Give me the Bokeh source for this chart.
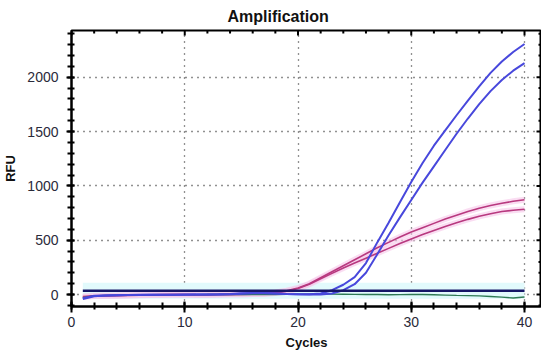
import math
from bokeh.plotting import figure
from bokeh.models import SingleIntervalTicker, Range1d
from bokeh.embed import file_html
from bokeh.resources import INLINE

# ---- data ----
cycles = list(range(1, 41))

blue_a = [-42, -15, -8, -6, -4, -3, -2, -2, -1, 0, 0, 1, 2, 6, 12, 15, 14, 10, 5, 2,
          2, 10, 40, 90, 160, 290, 480, 660, 850, 1035, 1210, 1370, 1510, 1650, 1785,
          1915, 2040, 2145, 2232, 2306]
blue_b = [-35, -12, -9, -7, -5, -4, -3, -3, -2, -1, 0, 0, 1, 3, 8, 12, 12, 9, 5, 2,
          0, 0, 10, 40, 95, 200, 370, 545, 710, 870, 1030, 1180, 1330, 1480, 1620,
          1752, 1872, 1975, 2060, 2130]
mag_a = [-22, -14, -12, -10, -8, -6, -4, -2, 0, 1, -1, -2, 0, 2, 3, 5, 10, 20, 35, 60,
         100, 155, 210, 265, 320, 375, 430, 480, 530, 575, 615, 655, 695, 730, 765,
         795, 820, 840, 858, 872]
mag_b = [-18, -12, -10, -9, -7, -5, -3, -1, 1, 0, -2, -1, 1, 2, 2, 4, 6, 15, 30, 55,
         95, 145, 195, 245, 290, 335, 380, 425, 470, 512, 552, 590, 627, 660, 692,
         720, 744, 764, 776, 785]
green = [-30, -12, -8, -6, -5, -4, -3, -2, -2, -1, -1, 0, 0, 1, 1, 0, 0, 1, 2, 3,
         4, 5, 4, 3, 2, 1, 0, -2, -1, 0, 1, -2, -5, -8, -10, -12, -18, -24, -32, -22]
threshold = [35] * len(cycles)

x_major_step = 10
x_minor_step = 2
y_major_step = 500
y_minor_step = 100
x_min, x_max = 0, 41.5
y_min, y_max = -110, 2430

# tick positions for the ticks on the top and right frame edges
top_ticks = list(range(x_min, 41, x_minor_step))
right_ticks = list(range(-100, 2401, y_minor_step))

FONT = "Liberation Sans"

p = figure(frame_width=470, frame_height=276,
           x_range=Range1d(x_min, x_max), y_range=Range1d(y_min, y_max),
           output_backend="svg", toolbar_location=None,
           min_border_left=50, min_border_right=0, min_border_top=24, min_border_bottom=40)

p.title.text = "Amplification"
p.title.align = "left"
p.title.offset = 156
p.title.text_font = FONT
p.title.text_font_size = "16px"
p.title.text_font_style = "bold"
p.title.text_color = "#111111"
p.title.standoff = 11

p.background_fill_color = "white"
p.border_fill_color = "white"
p.outline_line_color = "black"
p.outline_line_width = 2
p.outline_line_alpha = 1.0

# main axes
p.xaxis.ticker = SingleIntervalTicker(interval=x_major_step, num_minor_ticks=x_major_step // x_minor_step)
p.yaxis.ticker = SingleIntervalTicker(interval=y_major_step, num_minor_ticks=y_major_step // y_minor_step)
for ax in (p.xaxis[0], p.yaxis[0]):
    ax.axis_line_width = 2
    ax.axis_line_color = "black"
    ax.major_tick_line_width = 2
    ax.minor_tick_line_width = 2
    ax.major_tick_line_color = "black"
    ax.minor_tick_line_color = "black"
    ax.major_label_text_font = FONT
    ax.major_label_text_font_size = "14px"
    ax.major_label_text_color = "#2a2a3a"
    ax.axis_label_text_font = FONT
    ax.axis_label_text_font_size = "13px"
    ax.axis_label_text_font_style = "bold"
    ax.axis_label_text_color = "#111111"

p.xaxis.axis_label = "Cycles"
p.yaxis.axis_label = "RFU"
p.xaxis.major_tick_in = 5
p.xaxis.major_tick_out = 6
p.xaxis.minor_tick_in = 4
p.xaxis.minor_tick_out = 3
p.xaxis.major_label_standoff = 4
p.xaxis.axis_label_standoff = 5
p.yaxis.major_tick_in = 3
p.yaxis.major_tick_out = 5
p.yaxis.minor_tick_in = 3
p.yaxis.minor_tick_out = 4
p.yaxis.major_label_standoff = 8
p.yaxis.axis_label_standoff = 6

# dotted grid
for g in (p.xgrid[0], p.ygrid[0]):
    g.grid_line_color = "#222222"
    g.grid_line_width = 1.3
    g.grid_line_dash = "1 5"

# highlighted threshold band
p.line(cycles, threshold, line_width=16, color="#e2fafc")

# pink highlight behind magenta traces
for ys in (mag_a, mag_b):
    p.line(cycles, ys, line_width=6, color="#f6c6ea", alpha=0.6)
for ys in (mag_a, mag_b):
    p.line(cycles, ys, line_width=1.6, color="#b8397f")

p.line(cycles, green, line_width=1.4, color="#2f7a55")

for ys in (blue_a, blue_b):
    p.line(cycles, ys, line_width=2, color="#4848dc")

p.line(cycles, threshold, line_width=2.5, color="#151566")

# inward ticks on the top and right frame edges
top_sizes = [10 if t % x_major_step == 0 else 6 for t in top_ticks]
p.scatter([t for t in top_ticks], [y_max] * len(top_ticks), marker="dash", size=top_sizes,
          angle=math.pi / 2, line_color="black", line_width=2)
right_sizes = [10 if t % y_major_step == 0 else 6 for t in right_ticks]
p.scatter([x_max] * len(right_ticks), right_ticks, marker="dash", size=right_sizes,
          line_color="black", line_width=2)

open("out.html", "w").write(file_html(p, INLINE))
